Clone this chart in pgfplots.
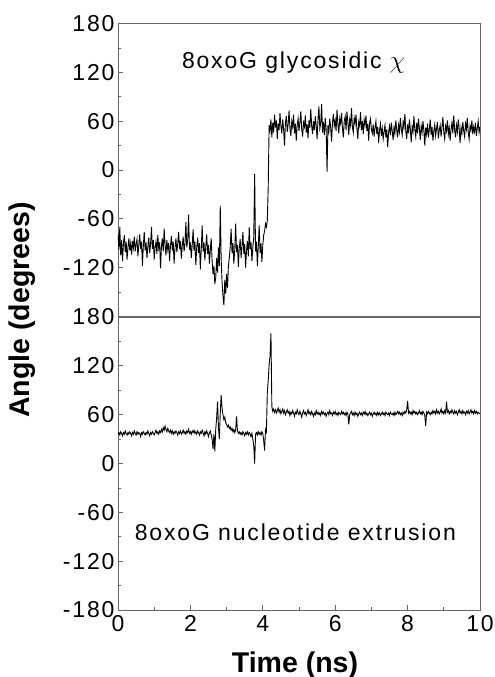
\documentclass[border=0pt]{standalone}
\usepackage{pgfplots}
\pgfplotsset{compat=1.18}
\usepackage{pgfplotstable}
\usepackage{fontspec}
\setmainfont{Liberation Sans}
\newfontfamily\spaced[LetterSpace=8]{Liberation Sans}

% time (ns), glycosidic chi (deg), extrusion angle (deg)
\pgfplotstableread{
t chi ext
0.000 -78 36
0.025 -98 38
0.050 -70 35
0.075 -105 39
0.100 -86 37
0.125 -112 34
0.150 -90 38
0.175 -80 36
0.200 -101 40
0.225 -88 37
0.250 -110 35
0.275 -95 38
0.300 -84 36
0.325 -99 39
0.350 -90 37
0.375 -104 34
0.400 -87 38
0.425 -96 36
0.450 -82 40
0.475 -100 37
0.500 -91 35
0.525 -85 39
0.550 -106 36
0.575 -92 38
0.600 -79 37
0.625 -97 33
0.650 -88 38
0.675 -118 36
0.700 -93 39
0.725 -76 37
0.750 -99 35
0.775 -89 38
0.800 -108 36
0.825 -94 40
0.850 -83 37
0.875 -102 34
0.900 -91 38
0.925 -70 36
0.950 -97 39
0.975 -86 37
1.000 -110 35
1.025 -95 38
1.050 -88 41
1.075 -103 37
1.100 -80 39
1.125 -96 36
1.150 -89 40
1.175 -121 38
1.200 -94 42
1.225 -84 39
1.250 -100 44
1.275 -72 41
1.300 -92 46
1.325 -105 42
1.350 -86 39
1.375 -98 43
1.400 -90 40
1.425 -112 38
1.450 -93 41
1.475 -81 37
1.500 -99 40
1.525 -88 36
1.550 -115 39
1.575 -95 37
1.600 -84 40
1.625 -101 38
1.650 -90 35
1.675 -76 39
1.700 -97 37
1.725 -87 40
1.750 -109 36
1.775 -93 38
1.800 -82 41
1.825 -100 37
1.850 -91 39
1.875 -64 36
1.900 -95 40
1.925 -86 38
1.950 -55 42
1.975 -98 37
2.000 -89 39
2.025 -108 36
2.050 -92 40
2.075 -73 38
2.100 -99 41
2.125 -88 37
2.150 -117 39
2.175 -95 36
2.200 -83 40
2.225 -102 38
2.250 -90 35
2.275 -122 39
2.300 -97 37
2.325 -68 41
2.350 -100 38
2.375 -89 34
2.400 -111 39
2.425 -94 36
2.450 -79 40
2.475 -103 37
2.500 -92 33
2.525 -115 38
2.550 -98 40
2.575 -84 35
2.600 -112 30
2.625 -128 18
2.650 -118 36
2.675 -140 15
2.700 -132 42
2.725 -108 56
2.750 -126 76
2.775 -95 44
2.800 -118 30
2.825 -44 62
2.850 -110 84
2.875 -138 68
2.900 -155 60
2.925 -166 54
2.950 -135 57
2.975 -152 50
3.000 -128 48
3.025 -145 45
3.050 -118 47
3.075 -108 43
3.100 -94 45
3.125 -72 41
3.150 -102 43
3.175 -90 39
3.200 -115 42
3.225 -98 38
3.250 -66 41
3.275 -101 58
3.300 -92 40
3.325 -119 37
3.350 -96 39
3.375 -85 36
3.400 -108 38
3.425 -94 35
3.450 -76 39
3.475 -103 37
3.500 -91 34
3.525 -120 38
3.550 -99 36
3.575 -87 39
3.600 -106 35
3.625 -70 38
3.650 -97 36
3.675 -89 33
3.700 -112 37
3.725 -95 30
3.750 -83 22
3.775 -5 0
3.800 -100 36
3.825 -88 38
3.850 -118 35
3.875 -94 39
3.900 -68 36
3.925 -102 38
3.950 -90 35
3.975 -113 39
4.000 -92 37
4.025 -80 28
4.050 -75 16
4.075 -66 42
4.100 -70 39
4.125 -62 88
4.150 -20 102
4.175 55 122
4.200 48 132
4.225 62 160
4.250 40 70
4.275 58 64
4.300 46 67
4.325 68 63
4.350 52 66
4.375 61 62
4.400 38 65
4.425 57 68
4.450 49 63
4.475 70 66
4.500 54 61
4.525 45 64
4.550 62 67
4.575 50 62
4.600 30 65
4.625 58 60
4.650 66 63
4.675 47 66
4.700 56 62
4.725 73 64
4.750 51 59
4.775 42 63
4.800 60 61
4.825 53 65
4.850 68 62
4.875 45 58
4.900 57 63
4.925 36 61
4.950 55 66
4.975 63 62
5.000 48 60
5.025 59 64
5.050 72 61
5.075 50 57
5.100 41 62
5.125 58 65
5.150 53 61
5.175 67 63
5.200 46 59
5.225 56 62
5.250 39 66
5.275 61 61
5.300 52 63
5.325 75 60
5.350 54 64
5.375 44 61
5.400 60 58
5.425 49 62
5.450 66 60
5.475 55 65
5.500 38 61
5.525 62 63
5.550 78 60
5.575 51 62
5.600 57 59
5.625 81 64
5.650 46 61
5.675 59 63
5.700 43 60
5.725 64 62
5.750 50 58
5.775 -2 61
5.800 55 63
5.825 47 60
5.850 63 65
5.875 52 61
5.900 35 62
5.925 58 59
5.950 69 63
5.975 54 61
6.000 61 64
6.025 48 60
6.050 74 62
6.075 56 59
6.100 45 63
6.125 63 61
6.150 57 60
6.175 70 64
6.200 52 61
6.225 40 63
6.250 60 60
6.275 66 62
6.300 49 59
6.325 72 63
6.350 58 61
6.375 43 48
6.400 62 60
6.425 55 62
6.450 76 64
6.475 53 60
6.500 46 62
6.525 64 59
6.550 57 63
6.575 68 60
6.600 50 62
6.625 38 58
6.650 59 61
6.675 54 63
6.700 71 60
6.725 49 62
6.750 60 59
6.775 44 63
6.800 62 61
6.825 55 64
6.850 67 60
6.875 48 62
6.900 57 59
6.925 36 61
6.950 58 63
6.975 63 60
7.000 50 62
7.025 45 58
7.050 56 61
7.075 41 63
7.100 52 60
7.125 60 62
7.150 44 59
7.175 53 63
7.200 33 60
7.225 49 62
7.250 57 59
7.275 42 61
7.300 51 63
7.325 38 60
7.350 47 62
7.375 55 59
7.400 40 63
7.425 50 61
7.450 28 60
7.475 46 62
7.500 54 59
7.525 43 63
7.550 58 61
7.575 48 60
7.600 37 62
7.625 52 59
7.650 45 63
7.675 61 60
7.700 49 62
7.725 40 64
7.750 55 61
7.775 47 63
7.800 64 60
7.825 50 62
7.850 43 59
7.875 59 63
7.900 52 61
7.925 69 64
7.950 48 62
7.975 38 66
8.000 56 77
8.025 45 62
8.050 62 64
8.075 50 61
8.100 34 63
8.125 53 60
8.150 47 65
8.175 66 62
8.200 49 64
8.225 41 61
8.250 58 63
8.275 45 60
8.300 63 62
8.325 51 65
8.350 37 61
8.375 54 63
8.400 46 60
8.425 60 64
8.450 48 62
8.475 30 59
8.500 52 46
8.525 44 63
8.550 57 61
8.575 40 64
8.600 50 62
8.625 62 60
8.650 43 63
8.675 53 61
8.700 36 65
8.725 48 62
8.750 56 64
8.775 42 61
8.800 51 66
8.825 59 62
8.850 39 64
8.875 49 61
8.900 55 63
8.925 41 67
8.950 53 62
8.975 65 64
9.000 46 61
9.025 38 65
9.050 54 62
9.075 48 76
9.100 61 63
9.125 44 65
9.150 52 61
9.175 36 64
9.200 50 62
9.225 58 66
9.250 45 63
9.275 67 61
9.300 49 65
9.325 40 62
9.350 55 64
9.375 47 60
9.400 62 63
9.425 50 66
9.450 33 62
9.475 52 64
9.500 45 61
9.525 59 65
9.550 48 62
9.575 41 63
9.600 57 60
9.625 50 64
9.650 64 62
9.675 46 65
9.700 38 61
9.725 54 63
9.750 49 66
9.775 61 62
9.800 44 64
9.825 53 61
9.850 47 65
9.875 58 62
9.900 42 64
9.925 51 61
9.950 60 63
9.975 46 62
10.000 53 61
}\traj

\pgfplotsset{
  panel/.style={
    width=362pt, height=293pt, scale only axis,
    xmin=0, xmax=10, ymin=-180, ymax=180,
    minor ytick={-150,-90,-30,30,90,150},
    axis line style={black!60, line width=0.8pt},
    every tick/.style={black!60, line width=0.8pt},
    major tick length=5pt, minor tick length=3pt,
    tick align=inside,
    ytick pos=left, xtick pos=bottom,
    tick label style={font=\spaced\fontsize{23}{23}\selectfont},
    xticklabel style={yshift=-2pt},
    /pgf/number format/assume math mode=true,
  },
}

\begin{document}
\begin{tikzpicture}
\path[use as bounding box] (-118pt,-67pt) rectangle (377pt,610pt);

% top panel: glycosidic angle
\begin{axis}[panel, at={(0pt,293.5pt)}, anchor=south west,
    xtick=\empty, ytick={-120,-60,...,180}]
\addplot[black, line width=0.9pt] table[x=t, y=chi] {\traj};
\node[anchor=base, font=\spaced\fontsize{23}{23}\selectfont]
  at (axis cs:4.85,125) {8oxoG glycosidic $\chi$};
\end{axis}

% bottom panel: nucleotide extrusion
\begin{axis}[panel, at={(0pt,0pt)}, anchor=south west,
    ytick={-180,-120,...,180},
    xtick={0,2,...,10}, minor xtick={1,3,...,9}]
\addplot[black, line width=0.9pt] table[x=t, y=ext] {\traj};
\node[anchor=base, font=\spaced\fontsize{23}{23}\selectfont]
  at (axis cs:4.9,-94) {8oxoG nucleotide extrusion};
\end{axis}

\node[rotate=90, font=\bfseries\fontsize{28.5}{28.5}\selectfont] at (-96pt,300pt) {Angle (degrees)};
\node[anchor=base, font=\bfseries\fontsize{28.5}{28.5}\selectfont] at (177pt,-62pt) {Time (ns)};
\end{tikzpicture}
\end{document}
